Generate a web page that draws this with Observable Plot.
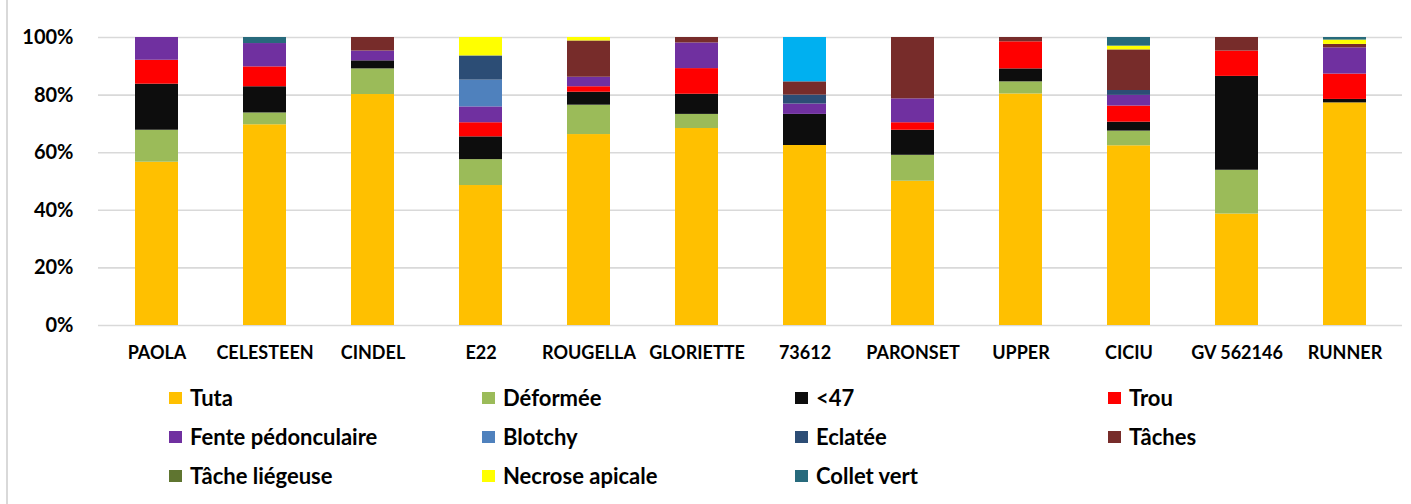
<!DOCTYPE html>
<html>
<head>
<meta charset="utf-8">
<script src="https://cdn.jsdelivr.net/npm/d3@7"></script>
<script src="https://cdn.jsdelivr.net/npm/@observablehq/plot@0.6"></script>
<style>
  html, body { margin: 0; padding: 0; background: #fff; }
  #wrap { position: relative; width: 1411px; height: 504px; overflow: hidden; font-family: Lato, "Open Sans", sans-serif; }
  #border { position: absolute; left: 6px; top: 0; width: 2px; height: 504px; background: #d9d9d9; }
  #chart { position: absolute; left: 0; top: 0; }
  #chart svg text { font-weight: 700; fill: #000; }
  #legend { position: absolute; left: 169px; top: 378px; display: grid; grid-template-columns: repeat(4, 313px); grid-auto-rows: 39px; align-items: center; font-family: Lato, sans-serif; font-weight: 700; font-size: 22px; color: #000; }
  .item { display: flex; align-items: center; white-space: nowrap; }
  .sw { width: 13px; height: 12px; margin-right: 8px; flex: none; }
</style>
</head>
<body>
<div id="wrap">
  <div id="border"></div>
  <div id="chart"></div>
  <div id="legend"></div>
</div>
<script>
const categories = ["PAOLA", "CELESTEEN", "CINDEL", "E22", "ROUGELLA", "GLORIETTE", "73612", "PARONSET", "UPPER", "CICIU", "GV 562146", "RUNNER"];

const tuta          = [56.7, 69.7, 80.2, 48.6, 66.3, 68.4, 62.5, 50.1, 80.4, 62.4, 38.7, 77.3];
const deformee      = [11.1,  4.1,  8.9,  9.0, 10.2,  4.9,  0.0,  9.0,  4.2,  5.1, 15.2,  0.0];
const moins47       = [16.0,  9.1,  2.8,  7.9,  4.5,  7.0, 10.8,  8.7,  4.5,  3.1, 32.6,  1.2];
const trou          = [ 8.3,  6.9,  0.0,  4.9,  1.9,  8.9,  0.0,  2.6,  9.4,  5.6,  8.8,  8.8];
const fente         = [ 7.9,  8.1,  3.4,  5.5,  3.3,  8.9,  3.6,  8.3,  0.0,  3.7,  0.0,  9.1];
const blotchy       = [ 0.0,  0.0,  0.0,  9.3,  0.0,  0.0,  0.0,  0.0,  0.0,  0.0,  0.0,  0.0];
const eclatee       = [ 0.0,  0.0,  0.0,  8.4,  0.0,  0.0,  3.1,  0.0,  0.0,  1.7,  0.0,  0.0];
const taches        = [ 0.0,  0.0,  4.7,  0.0, 12.6,  1.9,  4.6, 21.3,  1.5, 14.1,  4.7,  1.2];
const tacheLiegeuse = [ 0.0,  0.0,  0.0,  0.0,  0.0,  0.0,  0.0,  0.0,  0.0,  0.0,  0.0,  0.0];
const necrose       = [ 0.0,  0.0,  0.0,  6.4,  1.2,  0.0,  0.0,  0.0,  0.0,  1.3,  0.0,  1.5];
const colletVert    = [ 0.0,  2.1,  0.0,  0.0,  0.0,  0.0,  0.0,  0.0,  0.0,  3.0,  0.0,  0.9];
const autre         = [ 0.0,  0.0,  0.0,  0.0,  0.0,  0.0, 15.4,  0.0,  0.0,  0.0,  0.0,  0.0];

const seriesNames = ["Tuta", "Déformée", "<47", "Trou", "Fente pédonculaire", "Blotchy", "Eclatée", "Tâches", "Tâche liégeuse", "Necrose apicale", "Collet vert", "Autre"];
const seriesValues = [tuta, deformee, moins47, trou, fente, blotchy, eclatee, taches, tacheLiegeuse, necrose, colletVert, autre];
const seriesColors = ["#FFC000", "#9BBB59", "#0D0D0D", "#FF0000", "#7030A0", "#4F81BD", "#2C4D75", "#772C2A", "#5F7530", "#FFFF00", "#276A7C", "#00B0F0"];
const legendCount = 11;

const yTicks = [0, 0.2, 0.4, 0.6, 0.8, 1];

const rows = categories.flatMap((cat, i) =>
  seriesNames.map((name, j) => ({cat, serie: name, value: seriesValues[j][i]}))
);

const chart = Plot.plot({
  width: 1411,
  height: 380,
  marginLeft: 98,
  marginRight: 9,
  marginTop: 37,
  marginBottom: 55,
  style: {fontFamily: "Lato, sans-serif", color: "#000", background: "transparent"},
  x: {domain: categories, paddingInner: 0.604, paddingOuter: 0.302, label: null},
  y: {domain: [0, 1], label: null},
  color: {domain: seriesNames, range: seriesColors},
  marks: [
    Plot.gridY(yTicks, {stroke: "#d9d9d9", strokeWidth: 1.6, strokeOpacity: 1}),
    Plot.barY(rows, Plot.stackY({x: "cat", y: "value", fill: "serie", order: seriesNames, offset: "normalize"})),
    Plot.axisY({ticks: yTicks, tickFormat: d3.format(".0%"), tickSize: 0, tickPadding: 25, fontSize: 20, label: null}),
    Plot.axisX({tickSize: 0, tickPadding: 21, fontSize: 18, label: null})
  ]
});
document.getElementById("chart").appendChild(chart);

const legend = document.getElementById("legend");
seriesNames.slice(0, legendCount).forEach((name, j) => {
  const item = document.createElement("div");
  item.className = "item";
  const sw = document.createElement("span");
  sw.className = "sw";
  sw.style.background = seriesColors[j];
  const label = document.createElement("span");
  label.textContent = name;
  item.appendChild(sw);
  item.appendChild(label);
  legend.appendChild(item);
});
</script>
</body>
</html>
